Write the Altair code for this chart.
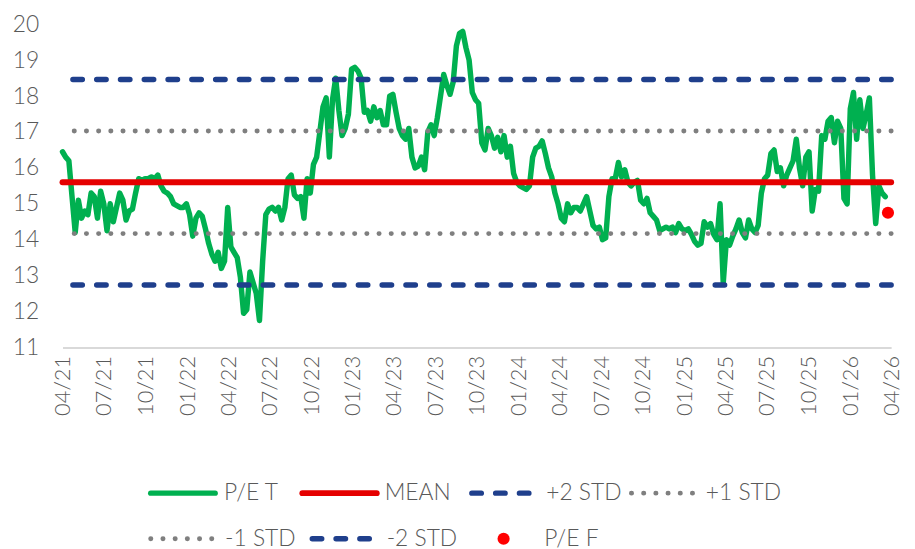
import altair as alt
import pandas as pd

# ---------------- data ----------------
pe_t_values = [
    16.45, 16.3, 16.2, 15.2, 14.2, 15.1, 14.6, 14.8, 14.7, 15.3,
    15.2, 14.6, 15.35, 15.0, 14.25, 15.0, 14.5, 14.9, 15.3, 15.1,
    14.55, 14.8, 14.85, 15.3, 15.7, 15.65, 15.7, 15.7, 15.75, 15.7,
    15.8, 15.5, 15.35, 15.3, 15.2, 15.0, 14.95, 14.9, 14.9, 15.0,
    14.7, 14.1, 14.6, 14.75, 14.65, 14.3, 13.9, 13.6, 13.4, 13.65,
    13.2, 13.4, 14.9, 13.8, 13.65, 13.5, 12.95, 11.95, 12.05, 13.1,
    12.8, 12.5, 11.75, 13.4, 14.7, 14.85, 14.9, 14.8, 14.9, 14.55,
    14.9, 15.7, 15.8, 15.25, 15.15, 15.2, 14.6, 15.7, 15.3, 16.1,
    16.3, 17.0, 17.7, 17.95, 16.3, 17.9, 18.5, 17.6, 16.9, 17.1,
    17.5, 18.75, 18.8, 18.7, 18.5, 17.55, 17.6, 17.3, 17.7, 17.4,
    17.6, 17.2, 17.2, 18.0, 18.05, 17.55, 17.1, 16.9, 16.8, 17.1,
    16.3, 16.0, 16.05, 16.3, 15.95, 17.0, 17.2, 16.9, 17.4, 18.0,
    18.6, 18.3, 18.05, 18.4, 19.4, 19.75, 19.8, 19.35, 19.0, 18.1,
    17.9, 17.8, 16.7, 16.5, 17.1, 16.9, 16.55, 16.85, 16.45, 16.9,
    16.3, 16.6, 15.85, 15.6, 15.5, 15.45, 15.4, 15.5, 16.3, 16.55,
    16.6, 16.75, 16.4, 16.0, 15.75, 15.3, 15.0, 14.6, 14.5, 15.0,
    14.75, 14.9, 14.9, 14.8, 15.0, 15.2, 14.8, 14.4, 14.3, 14.35,
    14.0, 14.05, 15.2, 15.7, 15.7, 16.15, 15.75, 15.95, 15.6, 15.5,
    15.6, 15.65, 15.1, 15.0, 15.15, 14.75, 14.65, 14.55, 14.25, 14.3,
    14.35, 14.3, 14.35, 14.2, 14.45, 14.3, 14.25, 14.3, 14.15, 13.95,
    13.85, 13.9, 14.5, 14.35, 14.45, 14.15, 14.0, 15.0, 12.8, 14.0,
    13.85, 14.1, 14.3, 14.55, 14.2, 14.05, 14.55, 14.3, 14.2, 14.4,
    15.3, 15.7, 15.8, 16.4, 16.5, 15.9, 16.0, 15.5, 15.8, 16.0,
    16.2, 16.8, 16.0, 15.5, 16.3, 16.45, 14.8, 15.4, 15.35, 16.9,
    16.8, 17.3, 17.4, 16.7, 17.3, 17.1, 15.15, 15.0, 17.65, 18.1,
    16.8, 17.9, 17.1, 17.5, 17.95, 15.8, 14.45, 15.5, 15.3, 15.2,
]
series_start = "2021-04-01"

level_names = ["MEAN", "+2 STD", "+1 STD", "-1 STD", "-2 STD"]
level_values = [15.6, 18.46, 17.03, 14.17, 12.74]

pe_f_date = ["2026-03-25"]
pe_f_value = [14.75]

y_ticks = [11, 12, 13, 14, 15, 16, 17, 18, 19, 20]
x_tick_months = [(2021, 4), (2021, 7), (2021, 10), (2022, 1), (2022, 4), (2022, 7),
                 (2022, 10), (2023, 1), (2023, 4), (2023, 7), (2023, 10), (2024, 1),
                 (2024, 4), (2024, 7), (2024, 10), (2025, 1), (2025, 4), (2025, 7),
                 (2025, 10), (2026, 1), (2026, 4)]

legend_labels = ["P/E T", "MEAN", "+2 STD", "+1 STD", "-1 STD", "-2 STD", "P/E F"]

# ---------------- styles ----------------
GREEN = "#00b050"
RED = "#e50000"
BLUE = "#1f3f8c"
GRAY = "#7f7f7f"
DOT = "#ff0000"
TXT = "#595959"
FONT = "Lato"
FW = 300

W, H = 836, 326

pe_df = pd.DataFrame({
    "date": pd.date_range(series_start, periods=len(pe_t_values), freq="7D"),
    "value": pe_t_values,
})
lvl_df = pd.DataFrame({"name": level_names, "value": level_values})
f_df = pd.DataFrame({"date": pd.to_datetime(pe_f_date), "value": pe_f_value})

x_scale = alt.Scale(domain=[alt.DateTime(year=2021, month=4, date=1),
                            alt.DateTime(year=2026, month=4, date=1)])
y_scale = alt.Scale(domain=[11, 20], nice=False, zero=False)

x_axis = alt.Axis(
    values=[alt.DateTime(year=y, month=m, date=1) for y, m in x_tick_months],
    format="%m/%y", labelAngle=270, labelAlign="right", labelBaseline="middle",
    labelPadding=8, labelFontSize=22, labelColor=TXT, labelFont=FONT,
    labelFontWeight=FW, labelOffset=0,
    labelOverlap=False, labelFlush=False, ticks=False, grid=False,
    domainColor="#d9d9d9", domainWidth=2, title=None,
)
y_axis = alt.Axis(
    values=y_ticks, labelFontSize=23, labelColor=TXT, labelFont=FONT,
    labelFontWeight=FW, labelOverlap=False, labelFlush=False,
    labelPadding=24, ticks=False, grid=False, domain=False, title=None,
)

X = alt.X("date:T", scale=x_scale, axis=x_axis)
Y = alt.Y("value:Q", scale=y_scale, axis=y_axis)

pe_line = alt.Chart(pe_df).mark_line(
    color=GREEN, strokeWidth=5.5, strokeJoin="round", strokeCap="round"
).encode(x=X, y=Y)

def level_rule(name, color, dash=None, width=5.5):
    kw = dict(color=color, strokeWidth=width, strokeCap="round")
    if dash is not None:
        kw["strokeDash"] = dash
    return alt.Chart(lvl_df).transform_filter(
        alt.datum.name == name
    ).mark_rule(**kw).encode(y=Y)

mean_rule = level_rule("MEAN", RED, None, 6)
p2_rule = level_rule("+2 STD", BLUE, [9.5, 14.5], 5.5)
p1_rule = level_rule("+1 STD", GRAY, [0.1, 12.2], 5)
m1_rule = level_rule("-1 STD", GRAY, [0.1, 12.2], 5)
m2_rule = level_rule("-2 STD", BLUE, [9.5, 14.5], 5.5)

pe_f = alt.Chart(f_df).mark_point(
    filled=True, color=DOT, size=150, opacity=1, shape="circle"
).encode(x=X, y=Y)

# ---------------- manual legend ----------------
one = pd.DataFrame({"k": [0]})

def leg_line(x1, x2, y, color, dash=None, width=5.5):
    kw = dict(color=color, strokeWidth=width, strokeCap="round")
    if dash is not None:
        kw["strokeDash"] = dash
    return alt.Chart(one).mark_rule(**kw).encode(
        x=alt.value(x1), x2=alt.value(x2), y=alt.value(y))

def leg_text(x, y, label):
    return alt.Chart(one).mark_text(
        align="left", baseline="middle", fontSize=23, color=TXT, font=FONT,
        fontWeight=FW,
    ).encode(x=alt.value(x), y=alt.value(y), text=alt.value(label))

r1, r2 = 473, 519
legend_layers = [
    leg_line(89, 154, r1, GREEN), leg_text(163, r1, legend_labels[0]),
    leg_line(242, 317, r1, RED, None, 6), leg_text(325, r1, legend_labels[1]),
    leg_line(413, 476, r1, BLUE, [9.5, 14.5]), leg_text(488, r1, legend_labels[2]),
    leg_line(574, 639, r1, GRAY, [0.1, 12.2], 5), leg_text(649, r1, legend_labels[3]),
    leg_line(89, 152, r2, GRAY, [0.1, 12.2], 5), leg_text(164, r2, legend_labels[4]),
    leg_line(252, 316, r2, BLUE, [9.5, 14.5]), leg_text(327, r2, legend_labels[5]),
    alt.Chart(one).mark_point(filled=True, color=DOT, size=150, opacity=1, shape="circle").encode(
        x=alt.value(445), y=alt.value(r2)),
    leg_text(486, r2, legend_labels[6]),
]

chart = alt.layer(
    pe_line, mean_rule, p2_rule, p1_rule, m1_rule, m2_rule, pe_f, *legend_layers
).properties(
    width=W, height=H,
    padding={"left": 55, "top": 14, "right": 16, "bottom": 210},
    autosize=alt.AutoSizeParams(type="none"),
).configure(font=FONT, view=alt.ViewConfig(stroke=None))

chart.save("out.html", embed_options={"renderer": "svg", "actions": False})
